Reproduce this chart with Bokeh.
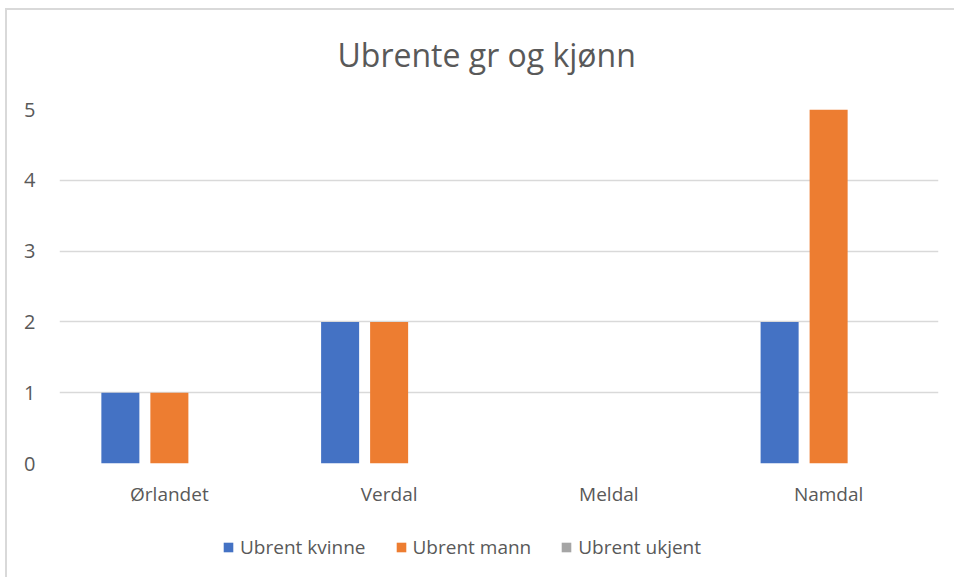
from bokeh.plotting import figure
from bokeh.layouts import column
from bokeh.models import FactorRange, Legend, LegendItem, ColumnDataSource, Range1d, FixedTicker, Label
from bokeh.transform import dodge
from bokeh.embed import file_html
from bokeh.resources import INLINE

categories = ["Ørlandet", "Verdal", "Meldal", "Namdal"]
kvinne = [1, 2, 0, 2]
mann = [1, 2, 0, 5]
ukjent = [0, 0, 0, 0]
series_names = ["Ubrent kvinne", "Ubrent mann", "Ubrent ukjent"]
series_keys = ["kvinne", "mann", "ukjent"]
colors = ["#4472C4", "#ED7D31", "#A5A5A5"]
y_ticks = [0, 1, 2, 3, 4, 5]
title_text = "Ubrente gr og kjønn"

source = ColumnDataSource(dict(cat=categories, kvinne=kvinne, mann=mann, ukjent=ukjent))

# title strip
tf = figure(width=947, height=80, x_range=Range1d(0, 1), y_range=Range1d(0, 1),
            output_backend="svg", toolbar_location=None, min_border=0)
tf.axis.visible = False
tf.grid.grid_line_color = None
tf.outline_line_color = None
tf.add_layout(Label(x=278, y=36, x_units="screen", y_units="screen", text=title_text,
                    text_font="Open Sans", text_font_size="32px", text_color="#595959",
                    text_align="left", text_baseline="alphabetic"))

# main chart
p = figure(x_range=FactorRange(factors=categories), y_range=Range1d(0, 5),
           width=947, height=430, output_backend="svg", toolbar_location=None,
           min_border_left=52, min_border_right=16, min_border_top=19, min_border_bottom=57)

offsets = [-0.223, 0.0, 0.223]
for key, col, off in zip(series_keys, colors, offsets):
    p.vbar(x=dodge("cat", off, range=p.x_range), top=key, width=0.173,
           source=source, fill_color=col, line_color=None)

p.outline_line_color = None
p.xgrid.grid_line_color = None
p.ygrid.grid_line_color = "#D9D9D9"
p.ygrid.grid_line_width = 1.5
p.yaxis.ticker = FixedTicker(ticks=y_ticks)

for ax in (p.xaxis, p.yaxis):
    ax.axis_line_color = None
    ax.major_tick_line_color = None
    ax.minor_tick_line_color = None
    ax.major_tick_out = 0
    ax.major_tick_in = 0
    ax.major_label_text_font = "Open Sans"
    ax.major_label_text_color = "#595959"
p.xaxis.major_label_text_font_size = "19px"
p.yaxis.major_label_text_font_size = "20px"
p.xaxis.major_label_standoff = 17
p.yaxis.major_label_standoff = 24

# legend strip below the chart; its renderers reuse the data but lie outside its y range
lf = figure(width=947, height=57, x_range=FactorRange(factors=categories), y_range=Range1d(100, 101),
            output_backend="svg", toolbar_location=None, min_border=0)
lf.axis.visible = False
lf.grid.grid_line_color = None
lf.outline_line_color = None
leg_renderers = []
for key, col, off in zip(series_keys, colors, offsets):
    leg_renderers.append(lf.vbar(x=dodge("cat", off, range=lf.x_range), top=key, width=0.173,
                                 source=source, fill_color=col, line_color=None))

legend = Legend(items=[LegendItem(label=n, renderers=[r]) for n, r in zip(series_names, leg_renderers)],
                orientation="horizontal", location=(163, 17),
                glyph_width=12, glyph_height=12, label_standoff=6, spacing=29,
                padding=0, margin=0, border_line_color=None, background_fill_alpha=0,
                label_text_font="Open Sans", label_text_font_size="19px", label_text_color="#595959")
lf.add_layout(legend, "center")

layout = column(tf, p, lf, spacing=0)
layout.styles = {"margin-left": "5px", "margin-top": "8px",
                 "border-left": "2px solid #D9D9D9", "border-top": "2px solid #D9D9D9"}

open("out.html", "w").write(file_html(layout, INLINE))
